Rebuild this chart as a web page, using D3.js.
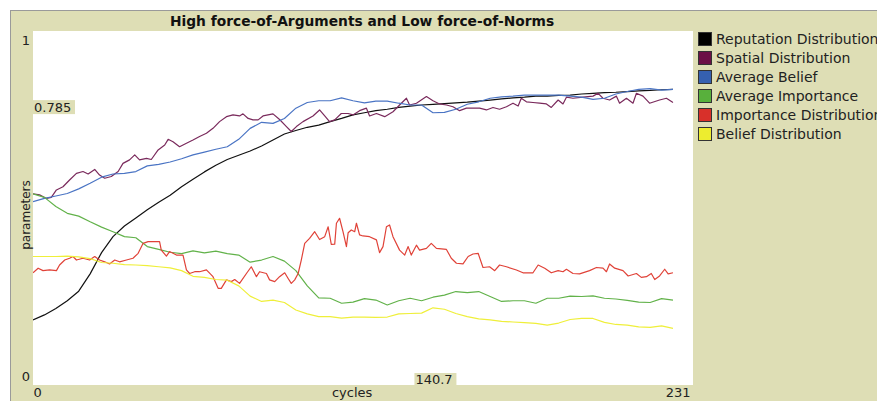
<!DOCTYPE html>
<html>
<head>
<meta charset="utf-8">
<script src="https://cdn.jsdelivr.net/npm/d3@7"></script>
<style>
  html, body { margin: 0; padding: 0; background: #ffffff; }
  svg { display: block; }
  text { font-family: "DejaVu Sans", sans-serif; }
</style>
</head>
<body>
<svg id="chart" width="877" height="401"></svg>
<script>
// ---------- data ----------
const title = "High force-of-Arguments and Low force-of-Norms";
const xLabel = "cycles";
const yLabel = "parameters";
const xTickValues = [0, 231];
const yTickValues = [0, 1];
const hoverY = "0.785";
const hoverX = "140.7";

const cycles = [0,4,8,12,16,20,24,28,32,36,40,44,48,52,56,60,64,68,72,76,
  80,84,88,92,96,100,104,108,112,116,120,124,128,132,136,140,144,148,152,
  156,160,164,168,172,176,180,184,188,192,196,200,204,208,212,216,220,224];

const seriesNames = ["Reputation Distribution","Spatial Distribution","Average Belief",
  "Average Importance","Importance Distribution","Belief Distribution"];
const seriesColors = ["#000000","#6c1046","#3560b0","#58b03c","#d8302a","#eded2f"];
const lineColors = ["#111111","#7a2a5c","#4a74c4","#62b24a","#e04238","#efef3a"];

const reputation = [.184,.198,.216,.238,.265,.314,.374,.419,.449,.472,.495,.516,.536,.560,.581,.602,.621,.637,.649,.661,
  .675,.692,.709,.719,.728,.734,.744,.753,.763,.769,.775,.779,.784,.788,.791,.793,.795,.797,.799,
  .802,.805,.808,.811,.813,.816,.816,.818,.819,.822,.824,.826,.827,.829,.831,.832,.834,.835];

const spatialCycles = [0,2.3,4.7,6.4,8.2,10.5,12.8,15.2,17.5,19.3,21.6,23.3,25.1,27.4,29.8,31.5,33.8,35.6,37.3,39.7,
  41.4,43.8,46.1,47.3,49,51.3,53.7,56,58.3,60.7,63,65.3,67.7,70,72.3,73.5,75.3,77,
  78.8,80.5,84,86.3,88.7,90.4,92.2,94.5,98,100.3,102.1,103.8,105.6,107.9,110.3,112,114.3,116.7,117.8,120.2,
  123.1,126,128.3,130.7,131.8,134.2,137.7,140,142.3,144.7,147,149.3,151.7,154,
  156.3,158.7,161,163.3,165.7,168,169.8,170.9,172.7,175,177.3,179.7,181.4,183.8,185.5,186.7,189,192.5,196,
  197.8,199.5,201.8,204.2,205.3,207.7,210,211.2,213.5,215.8,219.3,221.7,224];
const spatial = [.540,.537,.527,.530,.551,.560,.579,.598,.603,.596,.609,.593,.584,.589,.603,.626,.636,.650,.636,.640,
  .637,.664,.678,.694,.687,.673,.683,.692,.702,.711,.725,.744,.758,.763,.760,.766,.753,.749,
  .749,.760,.766,.750,.730,.716,.730,.744,.760,.777,.760,.744,.749,.767,.767,.763,.775,.782,.760,.767,
  .758,.772,.791,.810,.791,.796,.815,.803,.794,.791,.786,.775,.782,.782,
  .782,.777,.784,.779,.786,.796,.788,.810,.800,.798,.796,.794,.784,.805,.794,.813,.810,.813,.816,
  .824,.810,.805,.816,.796,.810,.796,.824,.816,.796,.805,.810,.798];

const avgBelief = [.518,.527,.534,.541,.554,.570,.587,.596,.598,.603,.619,.623,.630,.639,.650,.658,.666,.673,.694,.725,
  .742,.739,.753,.782,.798,.803,.803,.811,.803,.797,.802,.802,.796,.791,.791,.769,.770,.779,.793,
  .800,.810,.814,.816,.819,.819,.819,.819,.816,.813,.807,.810,.822,.829,.835,.837,.833,.835];
const avgImportance = [.540,.530,.504,.485,.477,.461,.446,.433,.419,.416,.391,.383,.375,.371,.379,.373,.378,.371,.367,.347,
  .353,.363,.350,.323,.280,.246,.245,.231,.234,.244,.240,.226,.238,.245,.238,.248,.254,.264,.261,
  .264,.250,.236,.238,.238,.231,.245,.245,.251,.250,.252,.245,.243,.239,.234,.233,.244,.240];

const importanceCycles = [0,1.8,3.5,5.8,8.2,9.3,11.1,12.8,14,15.2,17.5,19.8,21.6,23.3,25.1,26.8,28.6,30.3,32.7,35,
  36.8,38.5,40.3,44.3,44.9,46.7,47.8,50.2,52.5,53.7,54.8,56.6,58.3,60.7,63,64.8,65.9,67.7,69.4,70.6,72.3,74.7,76.4,
  78.2,79.3,81.7,82.8,84.6,86.3,88.1,89.3,90.4,91.6,92.8,93.9,95.1,96.8,98.6,100.3,102.1,103.3,104.4,105.6,106.2,
  107.3,108.5,109.7,110.3,111.4,112.6,113.2,114.3,115.5,117.8,120.2,121.3,122.5,123.7,124.8,126,128.3,130.1,131.3,
  132.4,134.2,135.3,137.7,139.4,141.2,144.7,146.4,148.2,150.5,152.3,154,
  155.8,157.5,159.8,161.6,163.3,165.7,169.2,171.5,175,176.8,179.1,181.4,183.8,185.5,186.7,189,191.3,194.8,197.2,
  199.5,200.7,201.8,203.6,206.5,208.3,211.2,212.9,214.7,216.4,217.6,219.3,221.1,222.3,224];
const importanceDist = [.317,.330,.323,.325,.323,.339,.353,.358,.363,.353,.358,.353,.363,.353,.348,.342,.353,.348,.353,.358,
  .372,.400,.405,.405,.381,.364,.377,.367,.367,.325,.315,.320,.320,.325,.306,.273,.273,.297,.292,.298,.287,.315,.334,
  .306,.320,.315,.297,.292,.306,.317,.301,.287,.297,.315,.353,.400,.414,.433,.411,.419,.447,.397,.398,.457,
  .471,.433,.391,.430,.438,.433,.457,.424,.421,.419,.410,.374,.391,.447,.452,.419,.381,.367,.391,
  .367,.395,.381,.386,.400,.386,.383,.358,.344,.342,.363,.370,
  .372,.332,.334,.323,.339,.334,.325,.317,.317,.339,.330,.317,.323,.320,.327,.315,.314,.323,.332,
  .330,.320,.342,.330,.323,.308,.315,.304,.306,.315,.298,.308,.327,.314,.317];

const beliefDist = [.363,.363,.363,.364,.362,.357,.346,.344,.340,.339,.337,.334,.331,.323,.307,.304,.298,.296,.280,.251,
  .236,.240,.233,.212,.201,.193,.193,.189,.192,.192,.191,.192,.201,.202,.203,.218,.214,.202,.193,
  .187,.184,.180,.178,.176,.174,.169,.175,.185,.188,.188,.177,.171,.169,.164,.163,.167,.160];

const seriesValues = [reputation, spatial, avgBelief, avgImportance, importanceDist, beliefDist];
const seriesCycles = [cycles, spatialCycles, cycles, cycles, importanceCycles, cycles];

// ---------- layout ----------
const svg = d3.select("#chart");
const beige = "#dedeb5";
const plot = {left: 33, right: 693, top: 31, bottom: 385};

svg.append("rect").attr("x", 0).attr("y", 0).attr("width", 877).attr("height", 401).attr("fill", "#ffffff");
svg.append("rect").attr("x", 10.5).attr("y", 10.5).attr("width", 880).attr("height", 400)
  .attr("fill", beige).attr("stroke", "#9a9a9a").attr("stroke-width", 1);
svg.append("rect").attr("x", plot.left).attr("y", plot.top)
  .attr("width", plot.right - plot.left).attr("height", plot.bottom - plot.top).attr("fill", "#ffffff");

const x = d3.scaleLinear().domain([0, 231]).range([plot.left, plot.right]);
const y = d3.scaleLinear().domain([0, 1]).range([plot.bottom, plot.top]);

// title
svg.append("text").attr("x", 362).attr("y", 26).attr("text-anchor", "middle")
  .attr("font-size", 13.8).attr("font-weight", "bold").attr("fill", "#111").text(title);

// lines
const clip = svg.append("clipPath").attr("id", "clip").append("rect")
  .attr("x", plot.left).attr("y", plot.top).attr("width", plot.right - plot.left).attr("height", plot.bottom - plot.top);
const lg = svg.append("g").attr("clip-path", "url(#clip)");
seriesValues.forEach((vals, k) => {
  const xs = seriesCycles[k];
  const line = d3.line().x((d, i) => x(xs[i])).y(d => y(d));
  lg.append("path").datum(vals).attr("d", line).attr("fill", "none")
    .attr("stroke", lineColors[k]).attr("stroke-width", 1.2).attr("stroke-linejoin", "round");
});

// x axis
const xAxis = d3.axisBottom(x).tickValues(xTickValues).tickSize(0).tickFormat(d3.format("d"));
const gx = svg.append("g").attr("transform", `translate(0,${plot.bottom})`).call(xAxis);
gx.select(".domain").remove();
gx.selectAll("text").attr("font-size", 13).attr("fill", "#222").attr("y", 0).attr("dy", 12)
  .attr("font-family", "DejaVu Sans, sans-serif")
  .attr("text-anchor", (d, i) => i === 0 ? "start" : "end")
  .attr("dx", (d, i) => i === 0 ? 0 : -3);

// y axis
const yAxis = d3.axisLeft(y).tickValues(yTickValues).tickSize(0).tickFormat(d3.format("d"));
const gy = svg.append("g").attr("transform", `translate(${plot.left},0)`).call(yAxis);
gy.select(".domain").remove();
gy.selectAll("text").attr("font-size", 13).attr("fill", "#222")
  .attr("font-family", "DejaVu Sans, sans-serif")
  .attr("text-anchor", "end").attr("x", -3)
  .attr("dy", d => d === 1 ? "1.05em" : "-0.35em");

// axis titles
svg.append("text").attr("x", x(111.7)).attr("y", 397).attr("text-anchor", "middle")
  .attr("font-size", 13).attr("fill", "#222").text(xLabel);
svg.append("text").attr("transform", `translate(30,${y(0.5) + 7}) rotate(-90)`)
  .attr("text-anchor", "middle").attr("font-size", 12).attr("fill", "#222").text(yLabel);

// hover labels
const hy = svg.append("g");
hy.append("rect").attr("x", plot.left).attr("y", y(0.785) - 7).attr("width", 42).attr("height", 14).attr("fill", beige);
hy.append("text").attr("x", plot.left + 1).attr("y", y(0.785) + 5).attr("font-size", 13).attr("fill", "#222").text(hoverY);
const hx = svg.append("g");
hx.append("rect").attr("x", x(133.5)).attr("y", plot.bottom - 12).attr("width", 42).attr("height", 12).attr("fill", beige);
hx.append("text").attr("x", x(133.5) + 1).attr("y", plot.bottom - 1).attr("font-size", 13).attr("fill", "#222").text(hoverX);

// legend
const leg = svg.append("g").attr("transform", "translate(698,32)");
seriesNames.forEach((name, k) => {
  const g = leg.append("g").attr("transform", `translate(0,${k * 19})`);
  g.append("rect").attr("x", 0.5).attr("y", 0.5).attr("width", 13).attr("height", 13)
    .attr("fill", seriesColors[k]).attr("stroke", "#333").attr("stroke-width", 1);
  g.append("text").attr("x", 18).attr("y", 12).attr("font-size", 14).attr("fill", "#222").text(name);
});
</script>
</body>
</html>
